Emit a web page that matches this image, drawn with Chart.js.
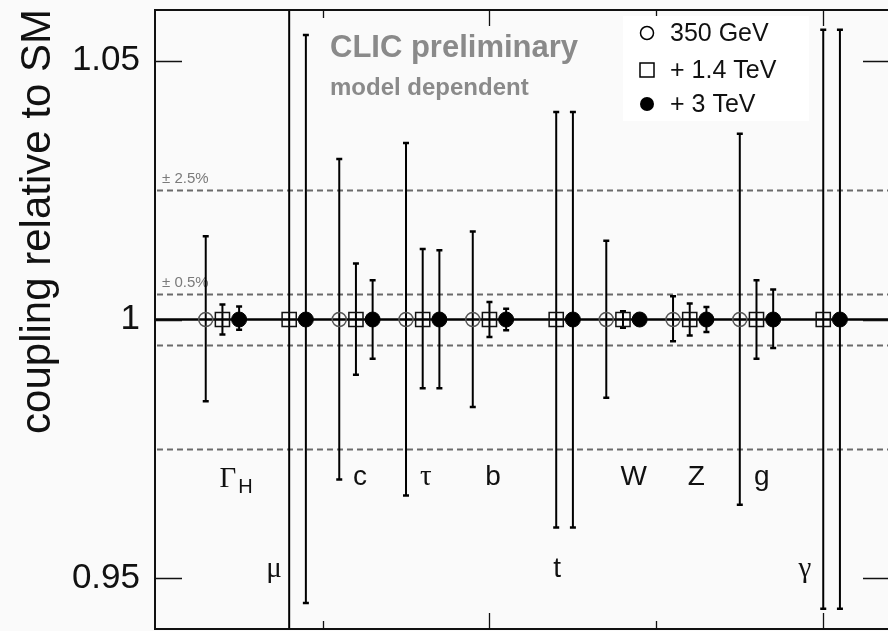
<!DOCTYPE html>
<html>
<head>
<meta charset="utf-8">
<script src="https://cdn.jsdelivr.net/npm/chart.js@4.4.1/dist/chart.umd.min.js"></script>
<style>
html, body { margin: 0; padding: 0; background: #fafafa; overflow: hidden; }
#wrap { width: 890px; height: 631px; position: relative; }
</style>
</head>
<body>
<div id="wrap"><canvas id="cpl"></canvas></div>
<script>
// couplings in plot order ("_" marks a subscript)
var couplings = ['Γ_H', 'μ', 'c', 'τ', 'b', 't', 'W', 'Z', 'g', 'γ'];
var stages = ['350 GeV', '+ 1.4 TeV', '+ 3 TeV'];

// central values, null = not measured at that stage
var central350  = [1, null, 1, 1, 1, null, 1, 1, 1, null];
var central1400 = [1, 1, 1, 1, 1, 1, 1, 1, 1, 1];
var central3000 = [1, 1, 1, 1, 1, 1, 1, 1, 1, 1];

// ends of the error bars
var hi350  = [1.0161, null, 1.0310, 1.0341, 1.0170, null, 1.0152, 1.0045, 1.0359, null];
var lo350  = [0.9842, null, 0.9691, 0.9660, 0.9831, null, 0.9849, 0.9958, 0.9642, null];
var hi1400 = [1.0029, 1.10, 1.0108, 1.0136, 1.0034, 1.0401, 1.0016, 1.0031, 1.0076, 1.0560];
var lo1400 = [0.9971, 0.90, 0.9893, 0.9867, 0.9966, 0.9598, 0.9984, 0.9969, 0.9924, 0.9441];
var hi3000 = [1.0025, 1.0550, 1.0076, 1.0134, 1.0021, 1.0401, 1.0005, 1.0024, 1.0058, 1.0560];
var lo3000 = [0.9980, 0.9452, 0.9924, 0.9867, 0.9979, 0.9598, 0.9995, 0.9976, 0.9945, 0.9441];

var yTicks = [0.95, 1, 1.05];
var bands = [0.025, 0.005];          // +-2.5% and +-0.5% guide lines
var xMajor = [20, 40], xMinor = [10, 30];

// label placement (x in axis units, row 0 = upper, 1 = lower)
var labelX   = [3.83, 7.09, 12.25, 16.18, 20.22, 24.06, 28.65, 32.39, 36.32, 38.9];
var labelRow = [0, 1, 0, 0, 0, 1, 0, 0, 0, 1];
var rowY = [0.9681, 0.9503];

var SANS = '"Liberation Sans", Arial, Helvetica, sans-serif';
var SERIF = '"Liberation Serif", "Times New Roman", serif';

function pts(central, hi, lo, off) {
  var out = [];
  central.forEach(function(v, i) {
    if (v === null) return;
    out.push({ x: 3 + 4 * i + off, y: v, hi: hi[i], lo: lo[i] });
  });
  return out;
}

var decor = {
  id: 'decor',
  beforeDatasetsDraw: function(chart) {
    var ctx = chart.ctx, a = chart.chartArea;
    var xs = chart.scales.x, ys = chart.scales.y;
    ctx.save();
    ctx.beginPath();
    ctx.rect(a.left, a.top, a.right - a.left, a.bottom - a.top);
    ctx.clip();

    // dashed guide lines
    ctx.strokeStyle = '#6a6a6a';
    ctx.lineWidth = 2;
    ctx.setLineDash([6, 4]);
    bands.forEach(function(b) {
      [1 + b, 1 - b].forEach(function(v) {
        var y = Math.round(ys.getPixelForValue(v)) + 0.5;
        ctx.beginPath();
        ctx.moveTo(a.left + 3, y);
        ctx.lineTo(a.right, y);
        ctx.stroke();
      });
      ctx.fillStyle = '#7a7a7a';
      ctx.font = '15px ' + SANS;
      ctx.textBaseline = 'alphabetic';
      ctx.fillText('\u00b1 ' + (b * 100).toFixed(1) + '%', a.left + 8, ys.getPixelForValue(1 + b) - 7);
    });
    ctx.setLineDash([]);

    // SM line
    ctx.strokeStyle = '#000';
    ctx.lineWidth = 2.5;
    var y1 = ys.getPixelForValue(1);
    ctx.beginPath();
    ctx.moveTo(a.left, y1);
    ctx.lineTo(a.right, y1);
    ctx.stroke();

    // error bars
    chart.data.datasets.forEach(function(ds) {
      ds.data.forEach(function(p) {
        var x = xs.getPixelForValue(p.x);
        var yh = ys.getPixelForValue(p.hi), yl = ys.getPixelForValue(p.lo);
        ctx.lineWidth = 2;
        ctx.beginPath();
        ctx.moveTo(x, yh);
        ctx.lineTo(x, yl);
        ctx.stroke();
        ctx.lineWidth = 2.5;
        ctx.beginPath();
        ctx.moveTo(x - 3, yh); ctx.lineTo(x + 3, yh);
        ctx.moveTo(x - 3, yl); ctx.lineTo(x + 3, yl);
        ctx.stroke();
      });
    });
    ctx.restore();
  },
  afterDatasetsDraw: function(chart) {
    var ctx = chart.ctx, a = chart.chartArea;
    var xs = chart.scales.x, ys = chart.scales.y;
    ctx.save();

    // frame
    ctx.strokeStyle = '#111';
    ctx.lineWidth = 2;
    ctx.beginPath();
    ctx.moveTo(a.right, a.top + 1);
    ctx.lineTo(a.left + 1, a.top + 1);
    ctx.lineTo(a.left + 1, a.bottom - 1);
    ctx.lineTo(a.right, a.bottom - 1);
    ctx.stroke();

    // inward ticks
    ctx.lineWidth = 1.3;
    ctx.beginPath();
    yTicks.forEach(function(v) {
      var y = Math.round(ys.getPixelForValue(v)) + 0.5;
      ctx.moveTo(a.left, y); ctx.lineTo(a.left + 28, y);
      ctx.moveTo(a.right - 27, y); ctx.lineTo(a.right, y);
    });
    [[xMajor, 17], [xMinor, 9]].forEach(function(set) {
      set[0].forEach(function(v) {
        var x = Math.round(xs.getPixelForValue(v)) + 0.5;
        ctx.moveTo(x, a.top); ctx.lineTo(x, a.top + set[1]);
        ctx.moveTo(x, a.bottom); ctx.lineTo(x, a.bottom - set[1]);
      });
    });
    ctx.stroke();

    // coupling labels
    ctx.fillStyle = '#111';
    ctx.textBaseline = 'alphabetic';
    couplings.forEach(function(name, i) {
      var parts = name.split('_');
      var greek = /[\u0370-\u03ff]/.test(parts[0]);
      var y = ys.getPixelForValue(rowY[labelRow[i]]);
      var x = xs.getPixelForValue(labelX[i]);
      ctx.font = (greek ? '29px ' + SERIF : '28px ' + SANS);
      if (parts.length > 1) {
        ctx.textAlign = 'left';
        ctx.fillText(parts[0], x, y + 2);
        var w = ctx.measureText(parts[0]).width;
        ctx.font = '20px ' + SANS;
        ctx.fillText(parts[1], x + w + 2, y + 8);
      } else {
        ctx.textAlign = 'center';
        ctx.fillText(parts[0], x, y);
      }
    });

    // header text
    ctx.textAlign = 'left';
    ctx.fillStyle = '#8a8a8a';
    ctx.font = 'bold 31px ' + SANS;
    ctx.fillText('CLIC preliminary', 330, 57);
    ctx.font = 'bold 24px ' + SANS;
    ctx.fillText('model dependent', 330, 95);

    // legend
    ctx.fillStyle = '#ffffff';
    ctx.fillRect(623, 16, 186, 105);
    var rows = [33, 70, 104];
    ctx.strokeStyle = '#000';
    ctx.fillStyle = '#000';
    ctx.lineWidth = 1.5;
    ctx.beginPath(); ctx.arc(647, rows[0], 6.5, 0, Math.PI * 2); ctx.stroke();
    ctx.strokeRect(640, rows[1] - 7, 14, 14);
    ctx.beginPath(); ctx.arc(647, rows[2], 7, 0, Math.PI * 2); ctx.fill();
    ctx.fillStyle = '#111';
    ctx.font = '25px ' + SANS;
    ctx.textBaseline = 'middle';
    stages.forEach(function(s, i) { ctx.fillText(s, 670, rows[i] + 1); });
    ctx.restore();
  }
};

function noPad(s) {
  s.paddingTop = 0; s.paddingBottom = 0; s.paddingLeft = 0; s.paddingRight = 0;
}

var chart = new Chart(document.getElementById('cpl'), {
  type: 'scatter',
  data: {
    datasets: [
      { label: stages[0], data: pts(central350, hi350, lo350, 0),
        pointStyle: 'circle', pointRadius: 7, borderColor: '#555', borderWidth: 1.5,
        backgroundColor: 'rgba(0,0,0,0)' },
      { label: stages[1], data: pts(central1400, hi1400, lo1400, 1),
        pointStyle: 'rect', pointRadius: 10, borderColor: '#111', borderWidth: 1.5,
        backgroundColor: 'rgba(0,0,0,0)' },
      { label: stages[2], data: pts(central3000, hi3000, lo3000, 2),
        pointStyle: 'circle', pointRadius: 7.5, borderColor: '#000', borderWidth: 1,
        backgroundColor: '#000' }
    ]
  },
  options: {
    responsive: true,
    maintainAspectRatio: false,
    devicePixelRatio: 1,
    animation: false,
    layout: { autoPadding: false, padding: { top: 9, right: 0, bottom: 1, left: 0 } },
    plugins: { legend: { display: false }, tooltip: { enabled: false } },
    scales: {
      x: { type: 'linear', min: -0.1, max: 44, display: false },
      y: {
        min: 0.94, max: 1.06,
        afterBuildTicks: function(s) { s.ticks = yTicks.map(function(v) { return { value: v }; }); },
        afterFit: function(s) { s.width = 154; noPad(s); },
        grid: { display: false, drawTicks: false },
        border: { display: false },
        ticks: {
          padding: 14, color: '#111',
          font: { family: SANS, size: 35 },
          callback: function(v) { return String(v); }
        },
        title: {
          display: true, text: 'coupling relative to SM', align: 'end',
          color: '#111', font: { family: SANS, size: 42 },
          padding: { top: 13, bottom: 0 }
        }
      }
    }
  },
  plugins: [decor]
});
</script>
</body>
</html>
